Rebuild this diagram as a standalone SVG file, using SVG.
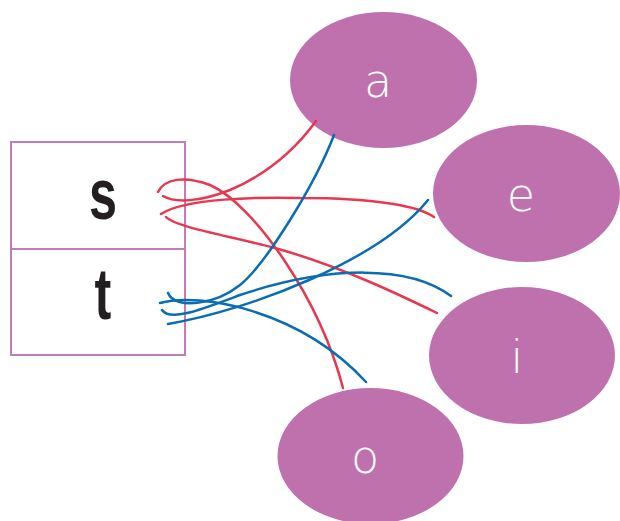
<svg xmlns="http://www.w3.org/2000/svg" width="620" height="521" viewBox="0 0 620 521">
<style>
.node{fill:#bf71ae}
.lbl{fill:#ffffff;font-family:"DejaVu Sans","Liberation Sans",sans-serif;font-weight:200;font-size:46px;text-anchor:middle}
.box{fill:#ffffff;stroke:#c27cba;stroke-width:2}
.big{fill:#231f20;font-family:"Liberation Sans",sans-serif;font-weight:bold;font-size:72px;text-anchor:middle}
.r{fill:none;stroke:#e8374f;stroke-width:2.5;stroke-linecap:round}
.b{fill:none;stroke:#0a6db3;stroke-width:2.5;stroke-linecap:round}
</style>
<rect width="620" height="521" fill="#ffffff"/>
<g id="box">
<rect class="box" x="11" y="142" width="174" height="107"/>
<rect class="box" x="11" y="249" width="174" height="106"/>
<text class="big" transform="translate(103,219) scale(0.7,1)">s</text>
<text class="big" transform="translate(103,319) scale(0.7,1)">t</text>
</g>
<g id="node-a"><ellipse class="node" cx="383.5" cy="80" rx="93.5" ry="68"/><text class="lbl" x="378" y="97">a</text></g>
<g id="node-e"><ellipse class="node" cx="526.5" cy="193.5" rx="93.5" ry="68.5"/><text class="lbl" x="521" y="211">e</text></g>
<g id="node-i"><ellipse class="node" cx="522" cy="355.5" rx="93" ry="68.5"/><text class="lbl" x="517" y="373">i</text></g>
<g id="node-o"><ellipse class="node" cx="370.5" cy="456" rx="93" ry="68"/><text class="lbl" x="365" y="473">o</text></g>
<g id="connectors">
<path class="r" d="M163,196 C175,203 200,202 230,190 C265,175 295,150 316,121"/>
<path class="r" d="M158,192 C165,178 185,176 210,185 C255,205 320,300 343,388"/>
<path class="r" d="M161,214 C185,198 260,197 300,198 C380,198 420,207 434,217"/>
<path class="r" d="M166,217 C175,227 230,236 275,248 C340,266 400,295 437,313"/>
<path class="b" d="M168,293 C175,310 215,305 240,285 S315,185 334,135"/>
<path class="b" d="M160,303 C200,292 300,310 366,382"/>
<path class="b" d="M162,310 C170,322 200,310 240,295 C330,265 410,265 451,296"/>
<path class="b" d="M168,324 C250,310 380,260 428,200"/>
</g>
</svg>
